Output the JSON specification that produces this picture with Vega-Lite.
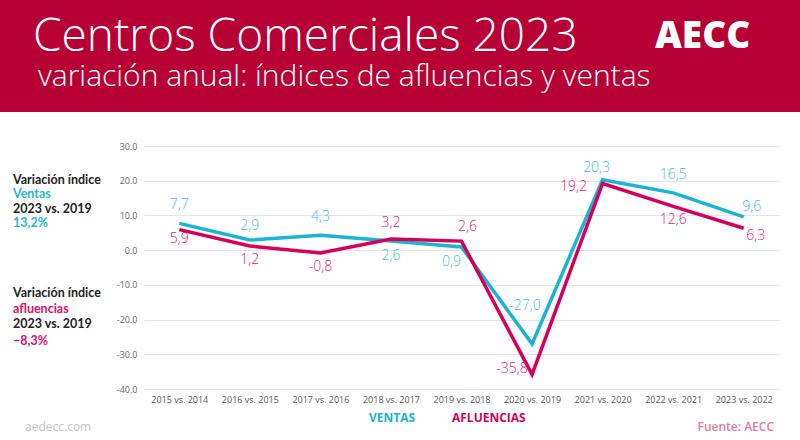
{
  "$schema": "https://vega.github.io/schema/vega-lite/v6.json",
  "background": "white",
  "padding": 0,
  "spacing": 34,
  "bounds": "flush",
  "datasets": {
    "serie": [
      {"periodo": "2015 vs. 2014", "serie": "Ventas", "valor": 7.7},
      {"periodo": "2016 vs. 2015", "serie": "Ventas", "valor": 2.9},
      {"periodo": "2017 vs. 2016", "serie": "Ventas", "valor": 4.3},
      {"periodo": "2018 vs. 2017", "serie": "Ventas", "valor": 2.6},
      {"periodo": "2019 vs. 2018", "serie": "Ventas", "valor": 0.9},
      {"periodo": "2020 vs. 2019", "serie": "Ventas", "valor": -27.0},
      {"periodo": "2021 vs. 2020", "serie": "Ventas", "valor": 20.3},
      {"periodo": "2022 vs. 2021", "serie": "Ventas", "valor": 16.5},
      {"periodo": "2023 vs. 2022", "serie": "Ventas", "valor": 9.6},
      {"periodo": "2015 vs. 2014", "serie": "Afluencias", "valor": 5.9},
      {"periodo": "2016 vs. 2015", "serie": "Afluencias", "valor": 1.2},
      {"periodo": "2017 vs. 2016", "serie": "Afluencias", "valor": -0.8},
      {"periodo": "2018 vs. 2017", "serie": "Afluencias", "valor": 3.2},
      {"periodo": "2019 vs. 2018", "serie": "Afluencias", "valor": 2.6},
      {"periodo": "2020 vs. 2019", "serie": "Afluencias", "valor": -35.8},
      {"periodo": "2021 vs. 2020", "serie": "Afluencias", "valor": 19.2},
      {"periodo": "2022 vs. 2021", "serie": "Afluencias", "valor": 12.6},
      {"periodo": "2023 vs. 2022", "serie": "Afluencias", "valor": 6.3}
    ],
    "cabecera": [
      {"elemento": "titulo", "texto": "Centros Comerciales 2023"},
      {"elemento": "subtitulo", "texto": "variación anual: índices de afluencias y ventas"},
      {"elemento": "logo", "texto": "AECC"}
    ],
    "notas": [
      {"id": "v1", "texto": "Variación índice"},
      {"id": "v2", "texto": "Ventas"},
      {"id": "v3", "texto": "2023 vs. 2019"},
      {"id": "v4", "texto": "13,2%"},
      {"id": "a1", "texto": "Variación índice"},
      {"id": "a2", "texto": "afluencias"},
      {"id": "a3", "texto": "2023 vs. 2019"},
      {"id": "a4", "texto": "−8,3%"},
      {"id": "web", "texto": "aedecc.com"},
      {"id": "fuente", "texto": "Fuente: AECC"}
    ]
  },
  "vconcat": [
    {
      "width": 800,
      "height": 112,
      "view": {"fill": "#b70034", "stroke": null},
      "data": {"name": "cabecera"},
      "layer": [
        {
          "transform": [{"filter": "datum.elemento == 'titulo'"}],
          "mark": {"type": "text", "align": "left", "baseline": "alphabetic", "dx": -367, "dy": -5, "fontSize": 46, "fontWeight": 300, "fill": "white"},
          "encoding": {"text": {"field": "texto"}}
        },
        {
          "transform": [{"filter": "datum.elemento == 'subtitulo'"}],
          "mark": {"type": "text", "align": "left", "baseline": "alphabetic", "dx": -362, "dy": 30, "fontSize": 30, "fontWeight": 300, "fill": "white"},
          "encoding": {"text": {"field": "texto"}}
        },
        {
          "transform": [{"filter": "datum.elemento == 'logo'"}],
          "mark": {"type": "text", "align": "left", "baseline": "alphabetic", "dx": 255, "dy": -8, "fontSize": 37, "fontWeight": 800, "fill": "white"},
          "encoding": {"text": {"field": "texto"}}
        }
      ]
    },
    {
      "bounds": "flush",
      "spacing": 20,
      "hconcat": [
        {
          "width": 124,
          "height": 294,
          "data": {"name": "notas"},
          "layer": [
            {
              "transform": [{"filter": "datum.id == 'v1'"}],
              "mark": {"type": "text", "align": "left", "baseline": "middle", "dx": -49, "dy": -113, "fontSize": 12.5, "fontWeight": "bold", "font": "Lato", "fill": "#222222"},
              "encoding": {"text": {"field": "texto"}}
            },
            {
              "transform": [{"filter": "datum.id == 'v2'"}],
              "mark": {"type": "text", "align": "left", "baseline": "middle", "dx": -49, "dy": -99, "fontSize": 12.5, "fontWeight": "bold", "font": "Lato", "fill": "#1fb8d9"},
              "encoding": {"text": {"field": "texto"}}
            },
            {
              "transform": [{"filter": "datum.id == 'v3'"}],
              "mark": {"type": "text", "align": "left", "baseline": "middle", "dx": -49, "dy": -84, "fontSize": 12.5, "fontWeight": "bold", "font": "Lato", "fill": "#222222"},
              "encoding": {"text": {"field": "texto"}}
            },
            {
              "transform": [{"filter": "datum.id == 'v4'"}],
              "mark": {"type": "text", "align": "left", "baseline": "middle", "dx": -49, "dy": -70, "fontSize": 12.5, "fontWeight": "bold", "font": "Lato", "fill": "#1fb8d9"},
              "encoding": {"text": {"field": "texto"}}
            },
            {
              "transform": [{"filter": "datum.id == 'a1'"}],
              "mark": {"type": "text", "align": "left", "baseline": "middle", "dx": -49, "dy": 0, "fontSize": 12.5, "fontWeight": "bold", "font": "Lato", "fill": "#222222"},
              "encoding": {"text": {"field": "texto"}}
            },
            {
              "transform": [{"filter": "datum.id == 'a2'"}],
              "mark": {"type": "text", "align": "left", "baseline": "middle", "dx": -49, "dy": 16, "fontSize": 12.5, "fontWeight": "bold", "font": "Lato", "fill": "#e0106a"},
              "encoding": {"text": {"field": "texto"}}
            },
            {
              "transform": [{"filter": "datum.id == 'a3'"}],
              "mark": {"type": "text", "align": "left", "baseline": "middle", "dx": -49, "dy": 31, "fontSize": 12.5, "fontWeight": "bold", "font": "Lato", "fill": "#222222"},
              "encoding": {"text": {"field": "texto"}}
            },
            {
              "transform": [{"filter": "datum.id == 'a4'"}],
              "mark": {"type": "text", "align": "left", "baseline": "middle", "dx": -49, "dy": 48, "fontSize": 12.5, "fontWeight": "bold", "font": "Lato", "fill": "#e0106a"},
              "encoding": {"text": {"field": "texto"}}
            },
            {
              "transform": [{"filter": "datum.id == 'web'"}],
              "mark": {"type": "text", "align": "left", "baseline": "middle", "dx": -37, "dy": 134, "fontSize": 12, "fill": "#c4c4c4"},
              "encoding": {"text": {"field": "texto"}}
            },
            {
              "transform": [{"filter": "datum.id == 'fuente'"}],
              "mark": {"type": "text", "align": "right", "baseline": "middle", "dx": 712, "dy": 134, "fontSize": 12, "fontWeight": 600, "fill": "#e8789a"},
              "encoding": {"text": {"field": "texto"}}
            }
          ]
        },
        {
          "width": 635,
          "height": 243,
          "data": {"name": "serie"},
          "encoding": {
            "x": {
              "field": "periodo", "type": "nominal", "sort": null,
              "scale": {"type": "point", "padding": 0.5},
              "axis": {"title": null, "labelAngle": 0, "labelFontSize": 9, "labelColor": "#555555", "ticks": false, "domain": false, "grid": false, "labelPadding": 6}
            },
            "y": {
              "field": "valor", "type": "quantitative",
              "scale": {"domain": [-40, 30], "nice": false, "zero": false},
              "axis": {"title": null, "values": [-40, -30, -20, -10, 0, 10, 20, 30], "format": ".1f", "labelExpr": "replace(datum.label, ',', '.')", "ticks": false, "domain": false, "grid": true, "gridColor": "#e4e4e4", "labelFontSize": 9, "labelColor": "#666666", "labelPadding": 7}
            }
          },
          "layer": [
            {
              "mark": {"type": "line", "strokeWidth": 3.5},
              "encoding": {
                "color": {
                  "field": "serie", "type": "nominal",
                  "scale": {"domain": ["Ventas", "Afluencias"], "range": ["#19b4d6", "#d6005b"]},
                  "legend": {
                    "title": null, "orient": "none", "legendX": 357, "legendY": 412, "direction": "horizontal",
                    "symbolSize": 0, "symbolOpacity": 0, "symbolStrokeWidth": 0, "labelOffset": 0, "columnPadding": 24, "padding": 0,
                    "labelFontSize": 12, "labelFontWeight": "bold", "labelExpr": "upper(datum.label)",
                    "encode": {"labels": {"update": {"fill": {"scale": "color", "field": "value"}}}}
                  }
                }
              }
            },
            {
              "transform": [{"filter": {"and": [{"field": "serie", "equal": "Ventas"}, {"field": "periodo", "oneOf": ["2015 vs. 2014", "2017 vs. 2016", "2022 vs. 2021"]}]}}],
              "mark": {"type": "text", "dy": -18, "fontSize": 14, "fontWeight": 300, "fill": "#3bbfdd"},
              "encoding": {"text": {"field": "valor", "type": "quantitative", "format": ".1f"}}
            },
            {
              "transform": [{"filter": {"and": [{"field": "serie", "equal": "Ventas"}, {"field": "periodo", "equal": "2016 vs. 2015"}]}}],
              "mark": {"type": "text", "dy": -14, "fontSize": 14, "fontWeight": 300, "fill": "#3bbfdd"},
              "encoding": {"text": {"field": "valor", "type": "quantitative", "format": ".1f"}}
            },
            {
              "transform": [{"filter": {"and": [{"field": "serie", "equal": "Ventas"}, {"field": "periodo", "equal": "2021 vs. 2020"}]}}],
              "mark": {"type": "text", "dx": -6, "dy": -12, "fontSize": 14, "fontWeight": 300, "fill": "#3bbfdd"},
              "encoding": {"text": {"field": "valor", "type": "quantitative", "format": ".1f"}}
            },
            {
              "transform": [{"filter": {"and": [{"field": "serie", "equal": "Ventas"}, {"field": "periodo", "equal": "2023 vs. 2022"}]}}],
              "mark": {"type": "text", "dx": 8, "dy": -10, "fontSize": 14, "fontWeight": 300, "fill": "#3bbfdd"},
              "encoding": {"text": {"field": "valor", "type": "quantitative", "format": ".1f"}}
            },
            {
              "transform": [{"filter": {"and": [{"field": "serie", "equal": "Ventas"}, {"field": "periodo", "equal": "2018 vs. 2017"}]}}],
              "mark": {"type": "text", "dy": 15, "fontSize": 14, "fontWeight": 300, "fill": "#3bbfdd"},
              "encoding": {"text": {"field": "valor", "type": "quantitative", "format": ".1f"}}
            },
            {
              "transform": [{"filter": {"and": [{"field": "serie", "equal": "Ventas"}, {"field": "periodo", "equal": "2019 vs. 2018"}]}}],
              "mark": {"type": "text", "dx": -10, "dy": 15, "fontSize": 14, "fontWeight": 300, "fill": "#3bbfdd"},
              "encoding": {"text": {"field": "valor", "type": "quantitative", "format": ".1f"}}
            },
            {
              "transform": [{"filter": {"and": [{"field": "serie", "equal": "Ventas"}, {"field": "periodo", "equal": "2020 vs. 2019"}]}}],
              "mark": {"type": "text", "dx": -7, "dy": -38, "fontSize": 14, "fontWeight": 300, "fill": "#3bbfdd"},
              "encoding": {"text": {"field": "valor", "type": "quantitative", "format": ".1f"}}
            },
            {
              "transform": [{"filter": {"and": [{"field": "serie", "equal": "Afluencias"}, {"field": "periodo", "equal": "2015 vs. 2014"}]}}],
              "mark": {"type": "text", "dy": 9, "fontSize": 14, "fontWeight": 300, "fill": "#e31b6a"},
              "encoding": {"text": {"field": "valor", "type": "quantitative", "format": ".1f"}}
            },
            {
              "transform": [{"filter": {"and": [{"field": "serie", "equal": "Afluencias"}, {"field": "periodo", "oneOf": ["2016 vs. 2015", "2017 vs. 2016", "2022 vs. 2021"]}]}}],
              "mark": {"type": "text", "dy": 14, "fontSize": 14, "fontWeight": 300, "fill": "#e31b6a"},
              "encoding": {"text": {"field": "valor", "type": "quantitative", "format": ".1f"}}
            },
            {
              "transform": [{"filter": {"and": [{"field": "serie", "equal": "Afluencias"}, {"field": "periodo", "equal": "2023 vs. 2022"}]}}],
              "mark": {"type": "text", "dx": 12, "dy": 8, "fontSize": 14, "fontWeight": 300, "fill": "#e31b6a"},
              "encoding": {"text": {"field": "valor", "type": "quantitative", "format": ".1f"}}
            },
            {
              "transform": [{"filter": {"and": [{"field": "serie", "equal": "Afluencias"}, {"field": "periodo", "equal": "2018 vs. 2017"}]}}],
              "mark": {"type": "text", "dy": -16, "fontSize": 14, "fontWeight": 300, "fill": "#e31b6a"},
              "encoding": {"text": {"field": "valor", "type": "quantitative", "format": ".1f"}}
            },
            {
              "transform": [{"filter": {"and": [{"field": "serie", "equal": "Afluencias"}, {"field": "periodo", "equal": "2019 vs. 2018"}]}}],
              "mark": {"type": "text", "dx": 6, "dy": -14, "fontSize": 14, "fontWeight": 300, "fill": "#e31b6a"},
              "encoding": {"text": {"field": "valor", "type": "quantitative", "format": ".1f"}}
            },
            {
              "transform": [{"filter": {"and": [{"field": "serie", "equal": "Afluencias"}, {"field": "periodo", "equal": "2020 vs. 2019"}]}}],
              "mark": {"type": "text", "dx": -20, "dy": -5, "fontSize": 14, "fontWeight": 300, "fill": "#e31b6a"},
              "encoding": {"text": {"field": "valor", "type": "quantitative", "format": ".1f"}}
            },
            {
              "transform": [{"filter": {"and": [{"field": "serie", "equal": "Afluencias"}, {"field": "periodo", "equal": "2021 vs. 2020"}]}}],
              "mark": {"type": "text", "dx": -29, "dy": 4, "fontSize": 14, "fontWeight": 300, "fill": "#e31b6a"},
              "encoding": {"text": {"field": "valor", "type": "quantitative", "format": ".1f"}}
            }
          ]
        }
      ]
    }
  ],
  "config": {
    "font": "Open Sans",
    "view": {"stroke": null},
    "locale": {"number": {"decimal": ",", "thousands": ".", "grouping": [3], "currency": ["", " €"], "minus": "-"}}
  }
}
